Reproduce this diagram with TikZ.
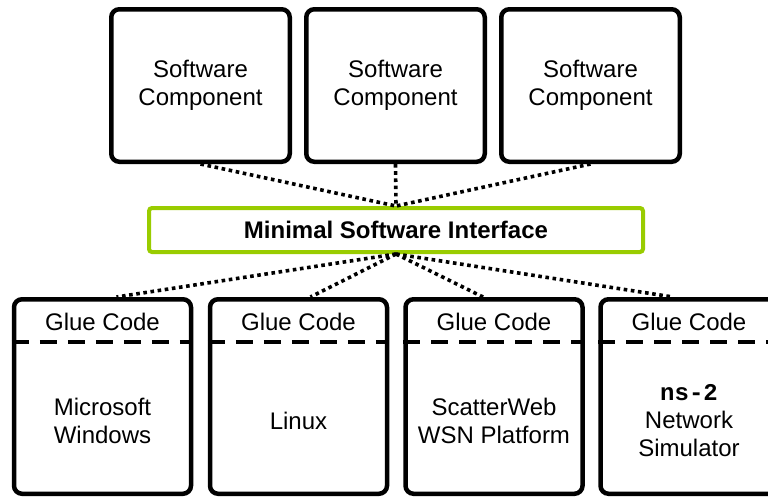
\documentclass[tikz,border=0pt]{standalone}
\usepackage{fontspec}
\setmainfont{Liberation Sans}
\setmonofont{Liberation Mono}
\usetikzlibrary{calc}
\definecolor{ifgreen}{RGB}{153,204,0}
\begin{document}
\begin{tikzpicture}[x=1pt,y=-1pt,
  txt/.style={font=\fontsize{24}{28}\selectfont, align=center},
  topbox/.style={draw=black, line width=4.5pt, rounded corners=8pt, minimum width=178.5pt, minimum height=152.5pt, txt},
  botbox/.style={draw=black, line width=4.5pt, rounded corners=8pt, minimum width=177pt, minimum height=194.5pt},
  ifbox/.style={draw=ifgreen, line width=4pt, rounded corners=3pt, minimum width=494pt, minimum height=44pt, font=\fontsize{24}{28}\selectfont\bfseries},
  link/.style={line width=3.6pt, dash pattern=on 3.6pt off 3.6pt},
  divider/.style={line width=3.2pt, dash pattern=on 17pt off 11pt}
]
\clip (0,0) rectangle (768,498);
\fill[white] (0,0) rectangle (768,498);

% top software components
\node[topbox] (t1) at (200.5,85.5) {Software\\Component};
\node[topbox] (t2) at (395.5,85.5) {Software\\Component};
\node[topbox] (t3) at (590.5,85.5) {Software\\Component};

% interface
\node[ifbox] (mi) at (396,230) {Minimal Software Interface};

% bottom platforms
\node[botbox] (b1) at (102.5,396.5) {};
\node[botbox] (b2) at (298.5,396.5) {};
\node[botbox] (b3) at (494,396.5) {};
\node[botbox] (b4) at (689,396.5) {};

% glue code labels and dividers
\foreach \b in {b1,b2,b3,b4}{
  \node[txt] (\b g) at ($(\b.north)+(0,25)$) {Glue Code};
  \draw[divider] ($(\b.north west)+(0,45)$) -- ($(\b.north east)+(0,45)$);
}

\node[txt] (b1t) at ($(b1.center)+(0,24)$) {Microsoft\\Windows};
\node[txt] (b2t) at ($(b2.center)+(0,24)$) {Linux};
\node[txt] (b3t) at ($(b3.center)+(0,24)$) {ScatterWeb\\WSN Platform};
\node[txt] (b4t) at ($(b4.center)+(0,24)$) {{\ttfamily\bfseries ns-2}\\Network\\Simulator};

% connectors
\draw[link] (t1.south) -- (mi.north);
\draw[link] (t2.south) -- (mi.north);
\draw[link] (t3.south) -- (mi.north);

\draw[link] (mi.south) -- ($(b1.north)+(14,0)$);
\draw[link] (mi.south) -- ($(b2.north)+(12,0)$);
\draw[link] (mi.south) -- ($(b3.north)+(-11,0)$);
\draw[link] (mi.south) -- ($(b4.north)+(-16,0)$);
\end{tikzpicture}
\end{document}
